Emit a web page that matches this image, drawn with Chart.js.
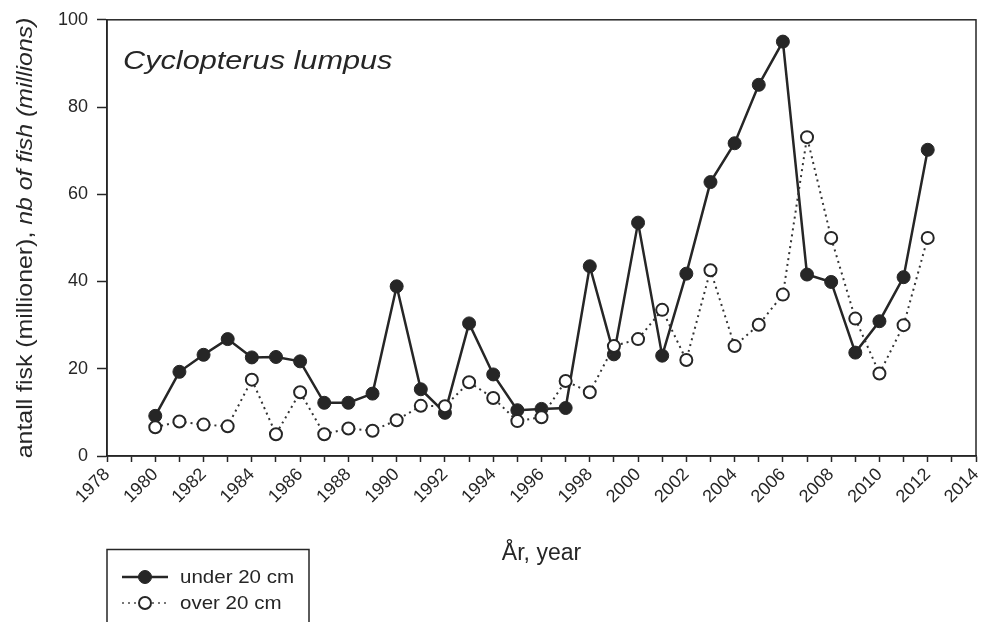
<!DOCTYPE html>
<html>
<head>
<meta charset="utf-8">
<script src="https://cdn.jsdelivr.net/npm/chart.js@4"></script>
<style>
  html, body { margin: 0; padding: 0; background: #fff; }
  #wrap { width: 984px; height: 622px; }
</style>
</head>
<body>
<div id="wrap"><canvas id="chart" width="984" height="622"></canvas></div>
<script>
// values (millions of fish)
const YEARS = [
  1980, 1981, 1982, 1983, 1984, 1985, 1986, 1987, 1988, 1989, 1990,
  1991, 1992, 1993, 1994, 1995, 1996, 1997, 1998, 1999, 2000, 2001,
  2002, 2003, 2004, 2005, 2006, 2007, 2008, 2009, 2010, 2011, 2012,
];
const UNDER_20 = [
  9.2, 19.3, 23.2, 26.8, 22.6, 22.7, 21.7, 12.2, 12.2, 14.3, 38.9,
  15.3, 9.9, 30.4, 18.7, 10.5, 10.8, 11.0, 43.5, 23.3, 53.5, 23.0,
  41.8, 62.8, 71.7, 85.1, 95.0, 41.6, 39.9, 23.7, 30.9, 41.0, 70.2,
];
const OVER_20 = [
  6.6, 7.9, 7.2, 6.8, 17.5, 5.0, 14.6, 5.0, 6.3, 5.8, 8.2,
  11.5, 11.4, 16.9, 13.3, 8.0, 8.9, 17.2, 14.6, 25.2, 26.8, 33.5,
  22.0, 42.6, 25.2, 30.1, 37.0, 73.1, 50.0, 31.5, 18.9, 30.0, 50.0,
];
const SERIES_LABELS = ["under 20 cm", "over 20 cm"];
const X_MIN = 1978, X_MAX = 2014;
const Y_TICKS = [0, 20, 40, 60, 80, 100];

const INK = "#262626";
const FONT = "'Liberation Sans', Arial, sans-serif";

function toPoints(vals) {
  return YEARS.map((yr, i) => ({ x: yr, y: vals[i] }));
}

// frame, species name, y title and legend box
const extras = {
  id: "extras",
  beforeDatasetsDraw(chart) {
    const { ctx, chartArea: a } = chart;
    ctx.save();
    ctx.strokeStyle = INK;
    ctx.lineWidth = 1.5;
    ctx.strokeRect(a.left, a.top, a.right - a.left, a.bottom - a.top);
    ctx.fillStyle = INK;
    ctx.textBaseline = "middle";

    // species name, glyphs a bit wider like the scanned original
    ctx.save();
    ctx.translate(a.left + 16, 62);
    ctx.scale(1.18, 1);
    ctx.font = "italic 26px " + FONT;
    ctx.fillText("Cyclopterus lumpus", 0, 0);
    ctx.restore();

    // y title: upright part + italic part
    const p1 = "antall fisk (millioner), ";
    const p2 = "nb of fish (millions)";
    ctx.font = "22px " + FONT;
    const w1 = ctx.measureText(p1).width;
    ctx.font = "italic 22px " + FONT;
    const w2 = ctx.measureText(p2).width;
    ctx.translate(26, (a.top + a.bottom) / 2);
    ctx.rotate(-Math.PI / 2);
    ctx.scale(1.13, 1);
    ctx.textAlign = "left";
    ctx.font = "22px " + FONT;
    ctx.fillText(p1, -(w1 + w2) / 2, 0);
    ctx.font = "italic 22px " + FONT;
    ctx.fillText(p2, -(w1 + w2) / 2 + w1, 0);
    ctx.restore();
  },
  afterDraw(chart) {
    const { ctx } = chart;
    ctx.save();
    ctx.strokeStyle = INK;
    ctx.lineWidth = 1.5;
    ctx.strokeRect(107, 549.5, 202, 90);
    chart.data.datasets.forEach((ds, i) => {
      const y = 577 + i * 26;
      ctx.beginPath();
      ctx.strokeStyle = i === 0 ? ds.borderColor : "#777";
      ctx.lineWidth = ds.borderWidth;
      ctx.setLineDash(ds.borderDash || []);
      ctx.moveTo(122, y);
      ctx.lineTo(168, y);
      ctx.stroke();
      ctx.setLineDash([]);
      ctx.beginPath();
      ctx.arc(145, y, ds.pointRadius, 0, Math.PI * 2);
      ctx.fillStyle = ds.pointBackgroundColor;
      ctx.fill();
      ctx.lineWidth = ds.pointBorderWidth;
      ctx.strokeStyle = ds.pointBorderColor;
      ctx.stroke();
      ctx.fillStyle = INK;
      ctx.font = "19px " + FONT;
      ctx.textBaseline = "middle";
      ctx.save();
      ctx.translate(180, y + 1);
      ctx.scale(1.08, 1);
      ctx.fillText(ds.label, 0, 0);
      ctx.restore();
    });
    ctx.restore();
  },
};

new Chart(document.getElementById("chart"), {
  type: "line",
  data: {
    datasets: [
      {
        label: SERIES_LABELS[0],
        data: toPoints(UNDER_20),
        borderColor: INK,
        borderWidth: 2.5,
        pointRadius: 6.5,
        pointBackgroundColor: INK,
        pointBorderColor: INK,
        pointBorderWidth: 1,
        tension: 0,
        order: 1,
      },
      {
        label: SERIES_LABELS[1],
        data: toPoints(OVER_20),
        borderColor: "#333",
        borderWidth: 2,
        borderDash: [2, 4],
        pointRadius: 6,
        pointBackgroundColor: "#fff",
        pointBorderColor: INK,
        pointBorderWidth: 2,
        tension: 0,
        order: 0,
      },
    ],
  },
  options: {
    responsive: false,
    animation: false,
    layout: { padding: { left: 0, right: 7, top: 19, bottom: 0 } },
    plugins: {
      legend: { display: false },
      tooltip: { enabled: false },
    },
    scales: {
      x: {
        type: "linear",
        min: X_MIN,
        max: X_MAX,
        afterFit: (s) => {
          s.height = 166;
          s.paddingRight = 0;
        },
        ticks: {
          stepSize: 1,
          autoSkip: false,
          minRotation: 45,
          maxRotation: 45,
          padding: 2,
          color: INK,
          font: { family: FONT, size: 18 },
          callback: (v) => (v % 2 === 0 ? String(v) : ""),
        },
        grid: {
          drawOnChartArea: false,
          tickLength: 6,
          tickColor: INK,
          tickWidth: 1.5,
        },
        border: { color: INK, width: 1.5 },
        title: {
          display: true,
          text: "År, year",
          color: INK,
          font: { family: FONT, size: 23 },
          padding: { top: 0, bottom: 55 },
        },
      },
      y: {
        min: 0,
        max: 100,
        afterFit: (s) => { s.width = 107; },
        afterBuildTicks: (s) => { s.ticks = Y_TICKS.map((v) => ({ value: v })); },
        ticks: {
          padding: 9,
          color: INK,
          font: { family: FONT, size: 18 },
        },
        grid: {
          drawOnChartArea: false,
          tickLength: 10,
          tickColor: INK,
          tickWidth: 1.5,
        },
        border: { color: INK, width: 1.5 },
      },
    },
  },
  plugins: [extras],
});
</script>
</body>
</html>
